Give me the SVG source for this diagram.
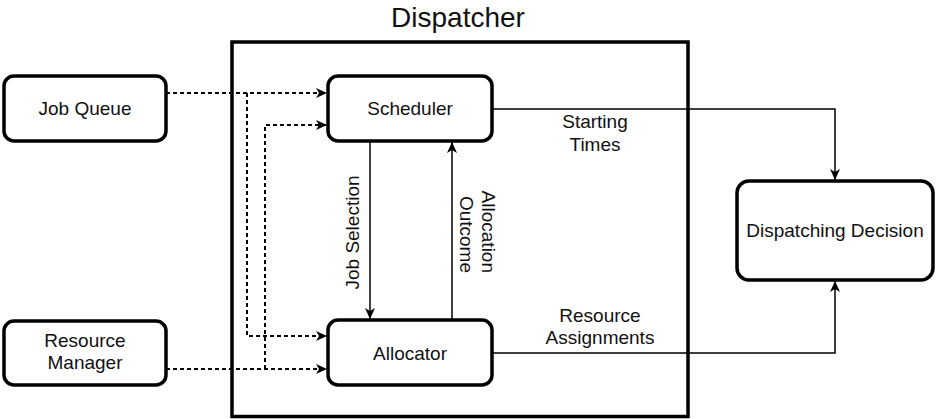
<svg xmlns="http://www.w3.org/2000/svg" width="941" height="419" viewBox="0 0 941 419">
<style>
text{font-family:"Liberation Sans",Arial,Helvetica,sans-serif;fill:#111;}
.node{fill:#fff;stroke:#000;stroke-width:3.5;}
.lbl{font-size:19px;text-anchor:middle;}
.dash{fill:none;stroke:#000;stroke-width:2;stroke-dasharray:4 3;marker-end:url(#arr);}
.solid{fill:none;stroke:#000;stroke-width:1.5;marker-end:url(#arr);}
</style>
<defs>
<marker id="arr" markerUnits="userSpaceOnUse" markerWidth="12" markerHeight="12" refX="11" refY="5" orient="auto">
<path d="M0,0 L11,5 L0,10 L3,5 Z" fill="#000"/>
</marker>
</defs>
<g id="dispatcher">
<rect x="232" y="42" width="456" height="374.5" fill="none" stroke="#000" stroke-width="3.5"/>
<text x="458" y="27" style="font-size:28px;text-anchor:middle">Dispatcher</text>
</g>
<g id="connectors">
<path class="dash" d="M166,93 H327"/>
<path class="dash" d="M247,93 V336 H327"/>
<path class="dash" d="M166,369 H327"/>
<path class="dash" d="M265,369 V125 H327"/>
<path class="solid" d="M492,109 H835 V180"/>
<path class="solid" d="M492,353 H835 V281"/>
<path class="solid" d="M370,141 V319"/>
<path class="solid" d="M452,320 V142"/>
<text class="lbl" x="595" y="128">Starting</text>
<text class="lbl" x="595" y="151">Times</text>
<text class="lbl" x="600" y="322">Resource</text>
<text class="lbl" x="600" y="344">Assignments</text>
<text class="lbl" transform="translate(359,232.5) rotate(-90)">Job Selection</text>
<text transform="translate(482,273) rotate(90)" style="font-size:19px;text-anchor:end">Allocation</text>
<text transform="translate(460,273) rotate(90)" style="font-size:19px;text-anchor:end">Outcome</text>
</g>
<g id="job-queue">
<rect class="node" x="4" y="76" width="162" height="65" rx="10"/>
<text class="lbl" x="85" y="115">Job Queue</text>
</g>
<g id="resource-manager">
<rect class="node" x="4" y="321" width="162" height="64" rx="10"/>
<text class="lbl" x="85" y="347">Resource</text>
<text class="lbl" x="85" y="369">Manager</text>
</g>
<g id="scheduler">
<rect class="node" x="328" y="76" width="164" height="65" rx="10"/>
<text class="lbl" x="410" y="115">Scheduler</text>
</g>
<g id="allocator">
<rect class="node" x="328" y="320" width="164" height="65" rx="10"/>
<text class="lbl" x="410" y="360">Allocator</text>
</g>
<g id="dispatching-decision">
<rect class="node" x="737" y="181" width="196" height="99" rx="12"/>
<text class="lbl" x="835" y="237">Dispatching Decision</text>
</g>
</svg>
